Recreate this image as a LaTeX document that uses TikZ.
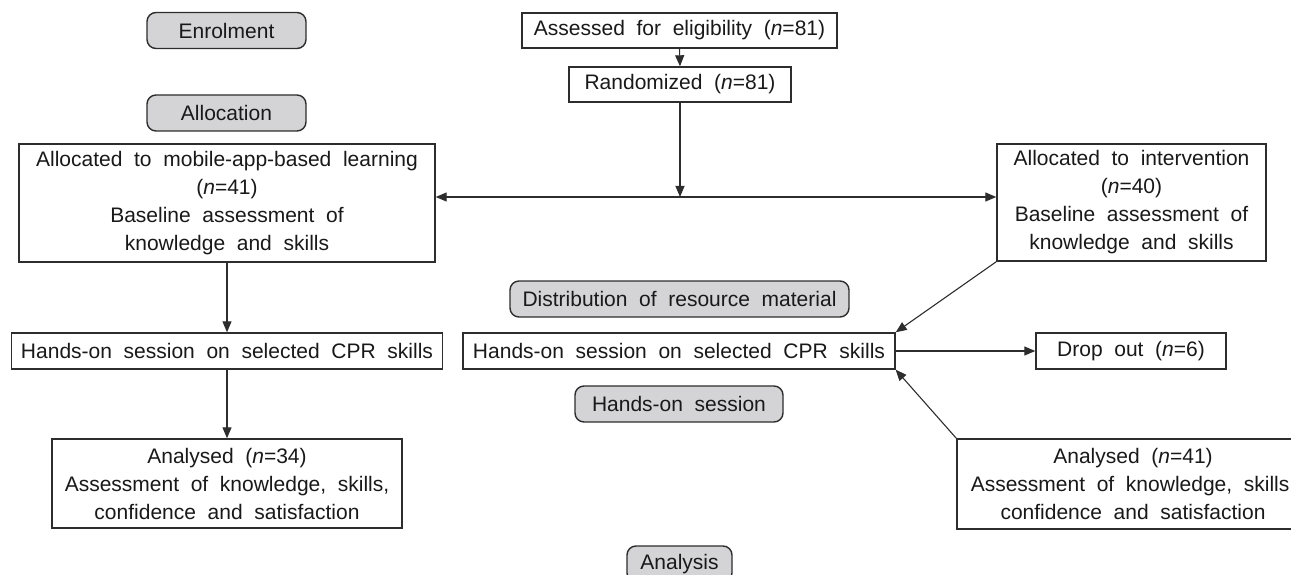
\documentclass[tikz,border=0pt]{standalone}
\usepackage{fontspec}
\setmainfont{Liberation Sans}[WordSpace=2]
\usetikzlibrary{arrows.meta}
\definecolor{boxline}{RGB}{45,45,45}
\definecolor{labelfill}{RGB}{212,212,214}
\begin{document}
\begin{tikzpicture}[x=1pt,y=-1pt,
  every node/.style={font=\fontsize{21}{28}\selectfont, text=black!90, inner sep=0pt, align=center},
  stagebox/.style={draw=boxline, line width=1.4pt, fill=labelfill, rounded corners=9pt},
  flowbox/.style={draw=boxline, line width=1.4pt, fill=white},
  conn/.style={draw=boxline, line width=1.1pt},
  arr/.style={conn, -{Triangle[length=11pt,width=9pt]}},
  darr/.style={conn, {Triangle[length=11pt,width=9pt]}-{Triangle[length=11pt,width=9pt]}}
]
\useasboundingbox (0,0) rectangle (1291,575);
\clip (0,0) rectangle (1291,575);

% stage labels
\node[stagebox, minimum width=159pt, minimum height=36pt] (enrol) at (226.5,30.5) {Enrolment};
\node[stagebox, minimum width=159pt, minimum height=36pt] (allocation) at (226.5,113) {Allocation};
\node[stagebox, minimum width=339pt, minimum height=36pt] (dist) at (679.5,299) {Distribution of resource material};
\node[stagebox, minimum width=208pt, minimum height=36pt] (hsess) at (679,404) {Hands-on session};
\node[stagebox, minimum width=105pt, minimum height=36pt] (analysis) at (679.5,564) {Analysis};

% flow boxes
\node[flowbox, minimum width=315pt, minimum height=35pt] (assess) at (679.5,30.5) {Assessed for eligibility (\textit{n}=81)};
\node[flowbox, minimum width=222pt, minimum height=35pt] (rand) at (680,84.5) {Randomized (\textit{n}=81)};
\node[flowbox, minimum width=416pt, minimum height=118pt] (mob) at (227,203)
  {Allocated to mobile-app-based learning\\(\textit{n}=41)\\Baseline assessment of\\knowledge and skills};
\node[flowbox, minimum width=269pt, minimum height=117pt] (intv) at (1131.5,202.5)
  {Allocated to intervention\\(\textit{n}=40)\\Baseline assessment of\\knowledge and skills};
\node[flowbox, minimum width=431pt, minimum height=36pt] (hl) at (227,351) {Hands-on session on selected CPR skills};
\node[flowbox, minimum width=432pt, minimum height=36pt] (hr) at (679,351) {Hands-on session on selected CPR skills};
\node[flowbox, minimum width=190pt, minimum height=36pt] (drop) at (1131,351) {Drop out (\textit{n}=6)};
\node[flowbox, minimum width=350pt, minimum height=89pt] (al) at (227,483.5)
  {Analysed (\textit{n}=34)\\Assessment of knowledge, skills,\\confidence and satisfaction};
\node[flowbox, minimum width=352pt, minimum height=90pt] (ar) at (1133,484)
  {Analysed (\textit{n}=41)\\Assessment of knowledge, skills,\\confidence and satisfaction};

% connectors
\coordinate (split) at (680,197);
\draw[arr] (assess.south) -- (rand.north);
\draw[arr] (rand.south) -- (split);
\draw[darr] (mob.east |- split) -- (intv.west |- split);
\draw[arr] (mob.south) -- (hl.north);
\draw[arr] (hl.south) -- (al.north);
\draw[arr] (intv.south west) -- (hr.north east);
\draw[arr] (hr.east) -- (drop.west);
\draw[arr] (ar.north west) -- (hr.south east);
\end{tikzpicture}
\end{document}
